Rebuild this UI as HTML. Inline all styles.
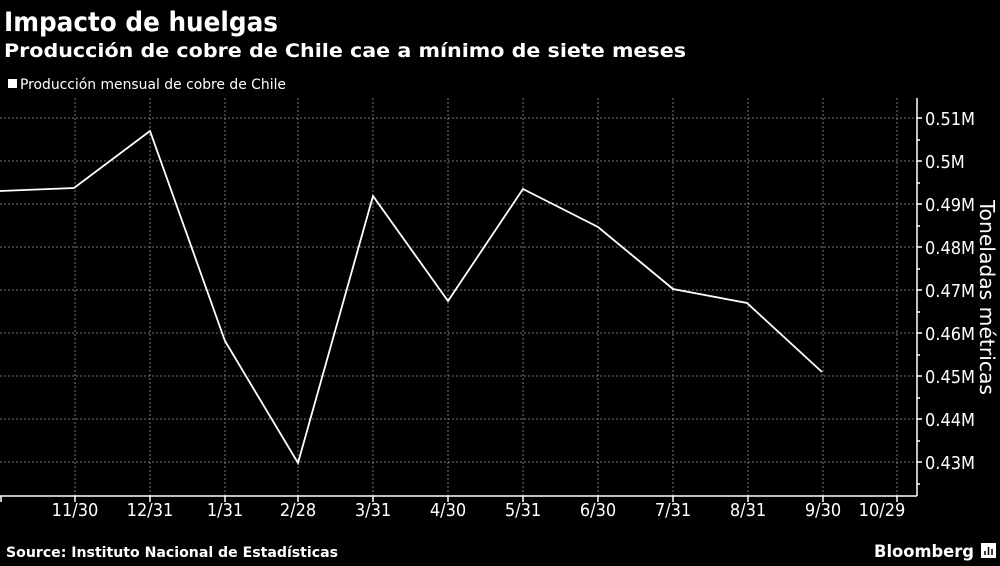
<!DOCTYPE html>
<html><head><meta charset="utf-8"><style>
body{margin:0;background:#000;width:1000px;height:562px;overflow:hidden;font-family:"DejaVu Sans",sans-serif;color:#fff}
</style></head><body>
<svg width="1000" height="562" xmlns="http://www.w3.org/2000/svg" font-family="DejaVu Sans Condensed, DejaVu Sans, sans-serif" fill="#fff">
<text x="4" y="31" font-size="27" font-weight="bold" textLength="274" lengthAdjust="spacingAndGlyphs">Impacto de huelgas</text>
<text x="4" y="57" font-size="19" font-weight="bold" textLength="682" lengthAdjust="spacingAndGlyphs">Producción de cobre de Chile cae a mínimo de siete meses</text>
<rect x="8" y="79" width="9" height="9" fill="#fff"/>
<text x="20" y="89" font-size="14" textLength="266" lengthAdjust="spacingAndGlyphs">Producción mensual de cobre de Chile</text>
<g stroke="#777" stroke-width="1" stroke-dasharray="2,2">
<line x1="0" x2="917" y1="118" y2="118"/><line x1="0" x2="917" y1="161" y2="161"/><line x1="0" x2="917" y1="204" y2="204"/><line x1="0" x2="917" y1="247" y2="247"/><line x1="0" x2="917" y1="290" y2="290"/><line x1="0" x2="917" y1="333" y2="333"/><line x1="0" x2="917" y1="376" y2="376"/><line x1="0" x2="917" y1="419" y2="419"/><line x1="0" x2="917" y1="462" y2="462"/>
<line x1="75" x2="75" y1="98" y2="496"/><line x1="150" x2="150" y1="98" y2="496"/><line x1="225" x2="225" y1="98" y2="496"/><line x1="298" x2="298" y1="98" y2="496"/><line x1="373" x2="373" y1="98" y2="496"/><line x1="448" x2="448" y1="98" y2="496"/><line x1="523" x2="523" y1="98" y2="496"/><line x1="598" x2="598" y1="98" y2="496"/><line x1="673" x2="673" y1="98" y2="496"/><line x1="748" x2="748" y1="98" y2="496"/><line x1="823" x2="823" y1="98" y2="496"/><line x1="897" x2="897" y1="98" y2="496"/>
</g>
<g stroke="#fff" stroke-width="1.5">
<line x1="917" x2="917" y1="98" y2="496"/>
<line x1="0" x2="917" y1="496" y2="496"/>
<line x1="917" x2="922" y1="118" y2="118"/><line x1="917" x2="922" y1="161" y2="161"/><line x1="917" x2="922" y1="204" y2="204"/><line x1="917" x2="922" y1="247" y2="247"/><line x1="917" x2="922" y1="290" y2="290"/><line x1="917" x2="922" y1="333" y2="333"/><line x1="917" x2="922" y1="376" y2="376"/><line x1="917" x2="922" y1="419" y2="419"/><line x1="917" x2="922" y1="462" y2="462"/>
<line x1="917" x2="920" y1="140" y2="140"/><line x1="917" x2="920" y1="183" y2="183"/><line x1="917" x2="920" y1="226" y2="226"/><line x1="917" x2="920" y1="269" y2="269"/><line x1="917" x2="920" y1="312" y2="312"/><line x1="917" x2="920" y1="355" y2="355"/><line x1="917" x2="920" y1="398" y2="398"/><line x1="917" x2="920" y1="441" y2="441"/><line x1="917" x2="920" y1="484" y2="484"/>
<line x1="75" x2="75" y1="496" y2="502"/><line x1="150" x2="150" y1="496" y2="502"/><line x1="225" x2="225" y1="496" y2="502"/><line x1="298" x2="298" y1="496" y2="502"/><line x1="373" x2="373" y1="496" y2="502"/><line x1="448" x2="448" y1="496" y2="502"/><line x1="523" x2="523" y1="496" y2="502"/><line x1="598" x2="598" y1="496" y2="502"/><line x1="673" x2="673" y1="496" y2="502"/><line x1="748" x2="748" y1="496" y2="502"/><line x1="823" x2="823" y1="496" y2="502"/><line x1="897" x2="897" y1="496" y2="502"/><line x1="1" x2="1" y1="496" y2="502"/>
</g>
<polyline fill="none" stroke="#fff" stroke-width="1.8" points="0,191 74,188 150,131 225,341 298,463 373,196 448,301 523,189 598,227 673,289 747,303 822,372"/>
<g font-size="18">
<text x="925" y="125">0.51M</text><text x="925" y="168">0.5M</text><text x="925" y="211">0.49M</text><text x="925" y="254">0.48M</text><text x="925" y="297">0.47M</text><text x="925" y="340">0.46M</text><text x="925" y="383">0.45M</text><text x="925" y="426">0.44M</text><text x="925" y="469">0.43M</text>
</g>
<text transform="translate(980,200) rotate(90)" font-size="20" textLength="195" lengthAdjust="spacingAndGlyphs">Toneladas métricas</text>
<g font-size="18" text-anchor="middle">
<text x="75" y="516">11/30</text><text x="150" y="516">12/31</text><text x="225" y="516">1/31</text><text x="298" y="516">2/28</text><text x="373" y="516">3/31</text><text x="448" y="516">4/30</text><text x="523" y="516">5/31</text><text x="598" y="516">6/30</text><text x="673" y="516">7/31</text><text x="748" y="516">8/31</text><text x="823" y="516">9/30</text><text x="882" y="516">10/29</text>
</g>
<text x="6" y="557" font-size="14" font-weight="bold" textLength="332" lengthAdjust="spacingAndGlyphs">Source: Instituto Nacional de Estadísticas</text>
<text x="874" y="557" font-size="17" font-weight="bold" textLength="100" lengthAdjust="spacingAndGlyphs">Bloomberg</text>
<rect x="981" y="543" width="15" height="15" fill="#fff"/>
<g stroke="#000" stroke-width="1.5"><line x1="985" y1="555" x2="985" y2="551"/><line x1="988.5" y1="555" x2="988.5" y2="547"/><line x1="992" y1="555" x2="992" y2="549"/></g>
</svg>
</body></html>
